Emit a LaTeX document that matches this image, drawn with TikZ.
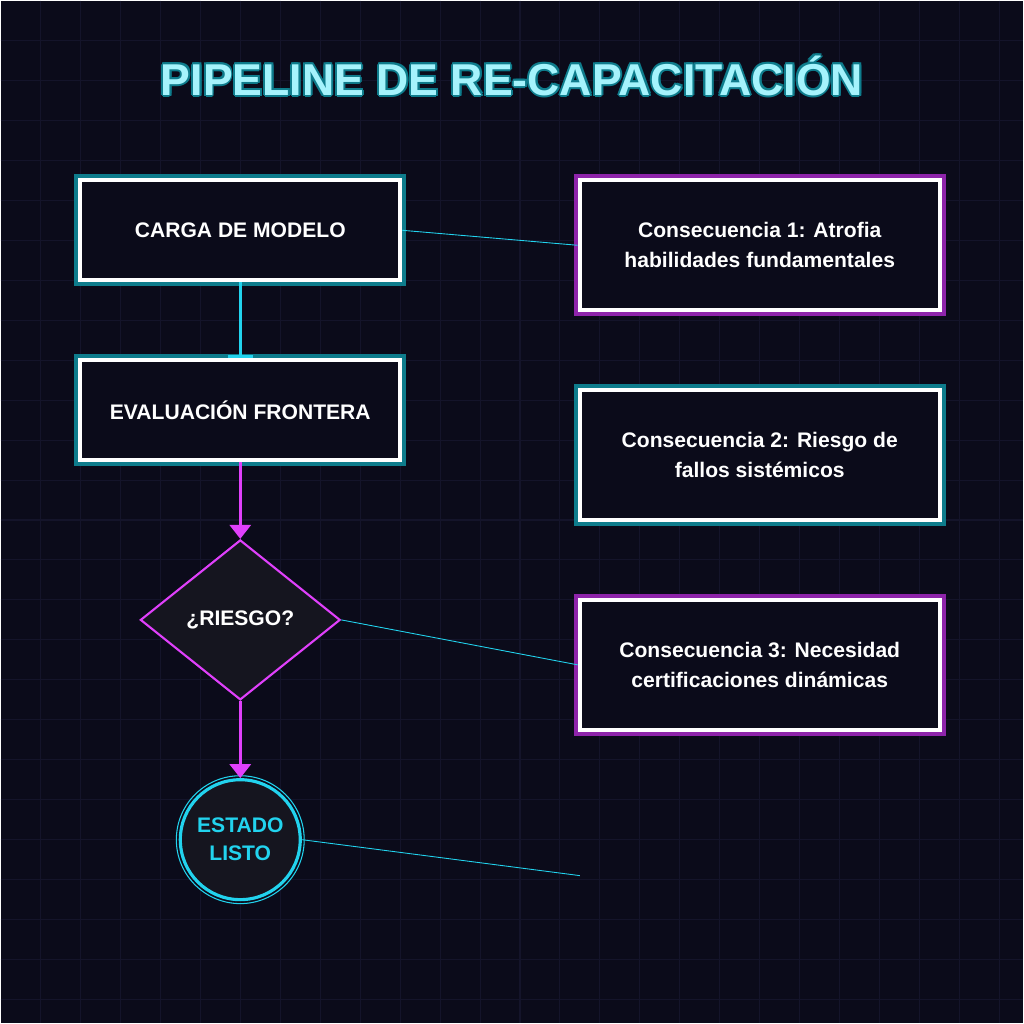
\documentclass[tikz,border=0pt]{standalone}
\usepackage{fontspec}
\setmainfont{Liberation Sans}
\usetikzlibrary{shapes.geometric,arrows.meta}

\definecolor{bgc}{HTML}{0B0B1A}
\definecolor{gridc}{HTML}{14142A}
\definecolor{cyanc}{HTML}{22D3EE}
\definecolor{paleC}{HTML}{A5F3FC}
\definecolor{tealc}{HTML}{0E7C8C}
\definecolor{magc}{HTML}{E040FB}
\definecolor{purpc}{HTML}{8E24AA}
\definecolor{fillc}{HTML}{15151F}

\tikzset{
  box/.style={draw=white, line width=1.2pt, fill=bgc, minimum width=3.2cm,
    text=white, font=\bfseries\fontsize{6}{8}\selectfont, align=center},
  tealbox/.style={box, preaction={draw=tealc, line width=3.4pt}},
  purpbox/.style={box, preaction={draw=purpc, line width=3.4pt}},
  thin/.style={draw=cyanc, line width=0.25pt},
  titlefont/.style={font=\bfseries\fontsize{12.7}{15}\selectfont}
}

\begin{document}
\begin{tikzpicture}[x=0.01cm, y=-0.01cm]

\fill[bgc] (0,0) rectangle (1024,1024);
\foreach \a in {40,80,...,1000}{
	\draw[gridc, line width=0.3pt] (\a,0)--(\a,1024);
	\draw[gridc, line width=0.3pt] (0,\a)--(1024,\a);
}

% title outline, then title
\foreach \dx/\dy in {-2/0,2/0,0/-2,0/2,-1.5/-1.5,1.5/1.5,-1.5/1.5,1.5/-1.5}{
	\node[titlefont, text=tealc] at (512+\dx,75+\dy) {PIPELINE DE RE-CAPACITACIÓN};
}
\node[titlefont, text=paleC] (title) at (512,75) {PIPELINE DE RE-CAPACITACIÓN};

\node[tealbox, minimum height=1cm] (carga) at (240,230) {CARGA DE MODELO};
\node[tealbox, minimum height=1cm] (eval) at (240,410) {EVALUACIÓN FRONTERA};

\node[purpbox, minimum width=3.6cm, minimum height=1.3cm] (con1) at (760,245)
  {Consecuencia 1: Atrofia\\[0.5pt] habilidades fundamentales};
\node[tealbox, minimum width=3.6cm, minimum height=1.3cm] (con2) at (760,455)
  {Consecuencia 2: Riesgo de\\[0.5pt] fallos sistémicos};
\node[purpbox, minimum width=3.6cm, minimum height=1.3cm] (con3) at (760,665)
  {Consecuencia 3: Necesidad\\[0.5pt] certificaciones dinámicas};

\node[diamond, draw=magc, line width=0.6pt, fill=fillc, minimum width=2cm,
  minimum height=1.6cm, inner sep=0pt, text=white,
  font=\bfseries\fontsize{6}{8}\selectfont] (riesgo) at (240,620) {¿RIESGO?};

\node[circle, draw=cyanc, line width=0.9pt, fill=fillc, minimum size=1.2cm,
  inner sep=0pt, text=cyanc, align=center,
  font=\bfseries\fontsize{6}{8}\selectfont] (listo) at (240,840) {ESTADO\\LISTO};
\draw[cyanc, line width=0.3pt] (listo.center) circle (64);

\coordinate (fin) at (580,876);

\draw[cyanc, line width=0.9pt, -{Bar[width=7pt]}] (carga) -- (eval);
\draw[magc, line width=0.9pt, -{Triangle[width=6pt,length=4pt]}] (eval) -- (riesgo);
\draw[magc, line width=0.9pt, -{Triangle[width=6pt,length=4pt]}] (riesgo) -- (listo);

\draw[thin] (carga.east) -- (con1.west);
\draw[thin] (riesgo.east) -- (con3.west);
\draw[thin] (listo.east) -- (fin);

\end{tikzpicture}
\end{document}
